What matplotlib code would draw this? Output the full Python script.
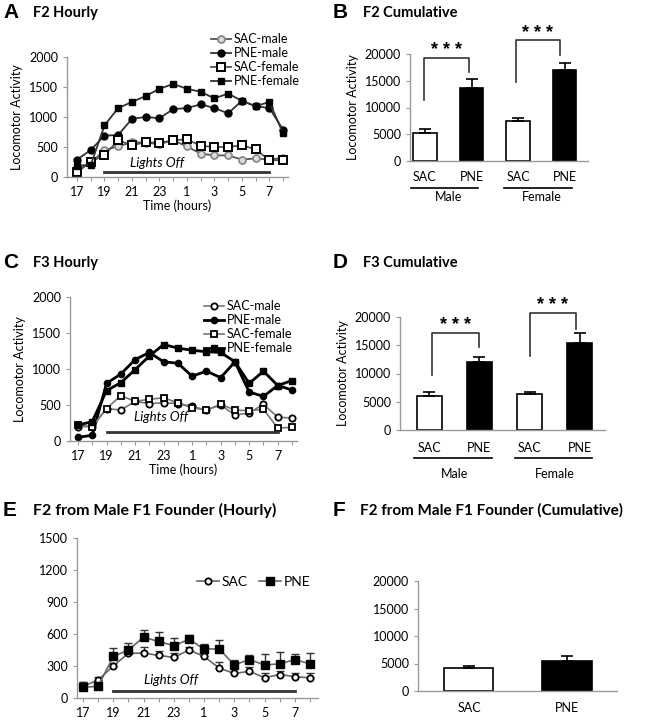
import numpy as np
import matplotlib
matplotlib.use('Agg')
import matplotlib.pyplot as plt
import matplotlib.transforms as mtransforms

plt.rcParams['font.family'] = ['Lato', 'DejaVu Sans']
plt.rcParams['font.size'] = 9

# DATA
hours = [17, 18, 19, 20, 21, 22, 23, 0, 1, 2, 3, 4, 5, 6, 7, 8]
hour_ticks = ['17', '19', '21', '23', '1', '3', '5', '7']

# F2 hourly
f2_sac_male = [130, 230, 450, 510, 580, 570, 550, 610, 510, 390, 360, 360, 290, 310, 290, 320]
f2_pne_male = [290, 450, 690, 700, 970, 1000, 980, 1130, 1150, 1210, 1150, 1060, 1270, 1180, 1150, 790]
f2_sac_female = [80, 250, 370, 610, 530, 580, 570, 610, 630, 520, 500, 500, 530, 460, 280, 280]
f2_pne_female = [190, 200, 860, 1150, 1250, 1350, 1470, 1550, 1470, 1420, 1310, 1390, 1270, 1180, 1250, 730]

# F3 hourly
f3_sac_male = [200, 200, 450, 430, 550, 520, 530, 520, 480, 430, 500, 360, 390, 510, 330, 320]
f3_pne_male = [50, 80, 800, 930, 1130, 1230, 1100, 1080, 900, 970, 880, 1100, 680, 620, 770, 710]
f3_sac_female = [220, 200, 450, 630, 550, 580, 600, 530, 460, 430, 510, 430, 420, 440, 180, 190]
f3_pne_female = [220, 270, 700, 810, 990, 1180, 1340, 1290, 1260, 1240, 1230, 1100, 800, 970, 770, 840]

# F2 from male F1 founder hourly (mean, sem)
mf_sac = [110, 170, 300, 420, 420, 400, 380, 450, 390, 280, 230, 250, 190, 220, 200, 190]
mf_sac_err = [40, 30, 30, 30, 60, 40, 40, 30, 30, 60, 40, 40, 40, 30, 30, 40]
mf_pne = [100, 110, 390, 450, 570, 530, 490, 550, 460, 460, 310, 360, 310, 320, 360, 320]
mf_pne_err = [50, 40, 80, 70, 70, 90, 70, 40, 50, 80, 50, 40, 100, 110, 50, 100]

# cumulative
groups = ['SAC', 'PNE', 'SAC', 'PNE']
f2_cum = [5300, 13600, 7400, 17100]
f2_cum_err = [600, 1800, 700, 1200]
f3_cum = [6100, 12000, 6300, 15400]
f3_cum_err = [600, 1000, 400, 1700]
mf_groups = ['SAC', 'PNE']
mf_cum = [4100, 5500]
mf_cum_err = [500, 900]

W, H = 646, 720
fig = plt.figure(figsize=(W / 100, H / 100), dpi=100)


def px_axes(l, t, r, b):
    return fig.add_axes([l / W, 1 - b / H, (r - l) / W, (b - t) / H])


def style(ax):
    for s in ['top', 'right']:
        ax.spines[s].set_visible(False)
    for s in ['left', 'bottom']:
        ax.spines[s].set_color('#999999')
        ax.spines[s].set_linewidth(1.0)
    ax.tick_params(colors='#999999', labelcolor='black', labelsize=9, length=3, width=0.8)


def panel_letter(x, y, letter, title, tsize=10.5):
    fig.text(x / W, 1 - y / H, letter, fontsize=15, fontweight='bold',
             family='Liberation Sans', va='center', ha='left')
    fig.text((x + 30) / W, 1 - y / H, title, fontsize=tsize, fontweight='bold',
             va='center', ha='left')


def hourly_axes(ax, ymax, ystep, lights_y, text_y, xlabel=True):
    x = np.arange(len(hours))
    ax.set_xticks(x)
    ax.set_xticklabels([hour_ticks[i // 2] if i % 2 == 0 else '' for i in x])
    ax.set_ylim(0, ymax)
    ax.set_yticks(np.arange(0, ymax + 1, ystep))
    style(ax)
    ax.plot([2, 14], [lights_y, lights_y], color='#333333', lw=2)
    ax.text(5.8, text_y, 'Lights Off', style='italic', fontsize=9.5, ha='center', va='center')
    if xlabel:
        ax.set_xlabel('Time (hours)', fontsize=9, labelpad=1)


x = np.arange(len(hours))

# A
axA = px_axes(67, 57, 288, 177)
axA.set_xlim(-0.73, 15.36)
lA = []
lA += axA.plot(x, f2_sac_male, '-o', color='#555555', mfc='#dddddd', mec='#888888', ms=5, mew=1.3, lw=1.3, label='SAC-male')
lA += axA.plot(x, f2_pne_male, '-o', color='#333333', mfc='black', mec='black', ms=5, lw=1.3, label='PNE-male')
lA += axA.plot(x, f2_sac_female, '-s', color='#555555', mfc='white', mec='black', ms=5.5, mew=1.4, lw=1.3, label='SAC-female')
lA += axA.plot(x, f2_pne_female, '-s', color='#333333', mfc='black', mec='black', ms=5, lw=1.3, label='PNE-female')
hourly_axes(axA, 2000, 500, 80, 230)
axA.set_ylabel('Locomotor Activity', fontsize=9)
axA.legend(handles=lA, loc='upper left', bbox_to_anchor=((205 - 67) / 221, 1 + 30 / 120),
           frameon=False, fontsize=9, handlelength=1.6, handletextpad=0.2,
           labelspacing=0.15, borderpad=0)
panel_letter(3, 13, 'A', 'F2 Hourly')

# C
axC = px_axes(70, 297, 297, 441)
axC.set_xlim(-0.56, 15.35)
lC = []
lC += axC.plot(x, f3_sac_male, '-o', color='#777777', mfc='white', mec='black', ms=4.5, mew=1.3, lw=1.2, label='SAC-male')
lC += axC.plot(x, f3_pne_male, '-o', color='black', mfc='black', mec='black', ms=4.5, lw=2, label='PNE-male')
lC += axC.plot(x, f3_sac_female, '-s', color='#777777', mfc='white', mec='black', ms=5, mew=1.3, lw=1.2, label='SAC-female')
lC += axC.plot(x, f3_pne_female, '-s', color='black', mfc='black', mec='black', ms=5, lw=2, label='PNE-female')
hourly_axes(axC, 2000, 500, 120, 330)
axC.set_ylabel('Locomotor Activity', fontsize=9)
axC.legend(handles=lC, loc='upper left', bbox_to_anchor=((198 - 70) / 227, 1 + 3 / 144),
           frameon=False, fontsize=9, handlelength=1.6, handletextpad=0.2,
           labelspacing=0.15, borderpad=0)
panel_letter(3, 263, 'C', 'F3 Hourly')

# E
axE = px_axes(77, 538, 318, 698)
axE.set_xlim(-0.4, 15.53)
lE = []
axE.errorbar(x, mf_sac, yerr=[np.zeros(len(x)), mf_sac_err], fmt='none', ecolor='#333333', capsize=3, elinewidth=1)
axE.errorbar(x, mf_pne, yerr=[np.zeros(len(x)), mf_pne_err], fmt='none', ecolor='#333333', capsize=3, elinewidth=1)
lE += axE.plot(x, mf_sac, '-o', color='#666666', mfc='white', mec='black', ms=4.5, mew=1.3, lw=1.2, label='SAC')
lE += axE.plot(x, mf_pne, '-s', color='#666666', mfc='black', mec='black', ms=5.5, lw=1.2, label='PNE')
hourly_axes(axE, 1500, 300, 64, 170, xlabel=False)
axE.legend(handles=lE, loc='center left', bbox_to_anchor=((190 - 77) / 241, (698 - 582) / 160),
           frameon=False, fontsize=10, ncol=2, handlelength=1.6, handletextpad=0.2,
           columnspacing=0.8, borderpad=0)
fig.text(3 / W, 1 - 510 / H, 'E', fontsize=15, fontweight='bold', family='Liberation Sans', va='center')
fig.text(33 / W, 1 - 510 / H, 'F2 from Male F1 Founder (Hourly)', fontsize=11.5, fontweight='bold', va='center')


# bar panels
def bar_panel(ax, labels, vals, errs, xlim, ymax=20000, ylabel=True):
    pos = np.arange(len(vals))
    colors = ['white' if g == 'SAC' else 'black' for g in labels]
    ax.bar(pos, vals, width=0.5, color=colors, edgecolor='black', linewidth=1.2,
           yerr=[np.zeros(len(vals)), errs], capsize=4, error_kw=dict(elinewidth=1.2, capthick=1.2, ecolor='black'))
    ax.set_xlim(*xlim)
    ax.set_ylim(0, ymax)
    ax.set_yticks(np.arange(0, ymax + 1, 5000))
    ax.set_xticks([])
    style(ax)
    if ylabel:
        ax.set_ylabel('Locomotor Activity', fontsize=9)
    trans = mtransforms.blended_transform_factory(ax.transData, ax.transAxes)
    return pos, trans


def bracket(ax, x0, x1, y0, y1, ytop, ystar):
    ax.plot([x0, x0, x1, x1], [y0, ytop, ytop, y1], color='#333333', lw=1.2, clip_on=False)
    ax.text((x0 + x1) / 2, ystar, '* * *', ha='center', va='center', fontsize=13,
            fontweight='bold', family='Liberation Sans', clip_on=False)


# B
axB = px_axes(410, 54, 588, 161)
pos, tr = bar_panel(axB, groups, f2_cum, f2_cum_err, (-0.32, 3.5))
for p, g in zip(pos, groups):
    axB.text(p, -0.15, g, transform=tr, ha='center', va='center', fontsize=9)
for a, b, name in [(0, 1, 'Male'), (2, 3, 'Female')]:
    axB.plot([a - 0.3, b + 0.15], [-0.25, -0.25], transform=tr, color='black', lw=1.2, clip_on=False)
    axB.text((a + b) / 2, -0.34, name, transform=tr, ha='center', va='center', fontsize=9)
bracket(axB, -0.03, 0.95, 11400, 16600, 19300, 20700)
bracket(axB, 1.95, 2.9, 14800, 19800, 22600, 23900)
panel_letter(333, 13, 'B', 'F2 Cumulative')

# D
axD = px_axes(400, 317, 605, 430)
pos, tr = bar_panel(axD, groups, f3_cum, f3_cum_err, (-0.58, 3.5))
for p, g in zip(pos, groups):
    axD.text(p, -0.16, g, transform=tr, ha='center', va='center', fontsize=9)
for a, b, name in [(0, 1, 'Male'), (2, 3, 'Female')]:
    axD.plot([a - 0.3, b + 0.25], [-0.25, -0.25], transform=tr, color='black', lw=1.2, clip_on=False)
    axD.text((a + b) / 2, -0.39, name, transform=tr, ha='center', va='center', fontsize=9)
bracket(axD, 0.05, 1.0, 9700, 14700, 17200, 18500)
bracket(axD, 2.0, 2.93, 13100, 17900, 20700, 22000)
panel_letter(333, 263, 'D', 'F3 Cumulative')

# F
axF = px_axes(418, 581, 617, 691)
pos, tr = bar_panel(axF, mf_groups, mf_cum, mf_cum_err, (-0.52, 1.51), ylabel=False)
for p, g in zip(pos, mf_groups):
    axF.text(p, -0.15, g, transform=tr, ha='center', va='center', fontsize=9)
fig.text(333 / W, 1 - 510 / H, 'F', fontsize=15, fontweight='bold', family='Liberation Sans', va='center')
fig.text(360 / W, 1 - 510 / H, 'F2 from Male F1 Founder (Cumulative)', fontsize=11, fontweight='bold', va='center')

fig.savefig('out.png', dpi=100)
